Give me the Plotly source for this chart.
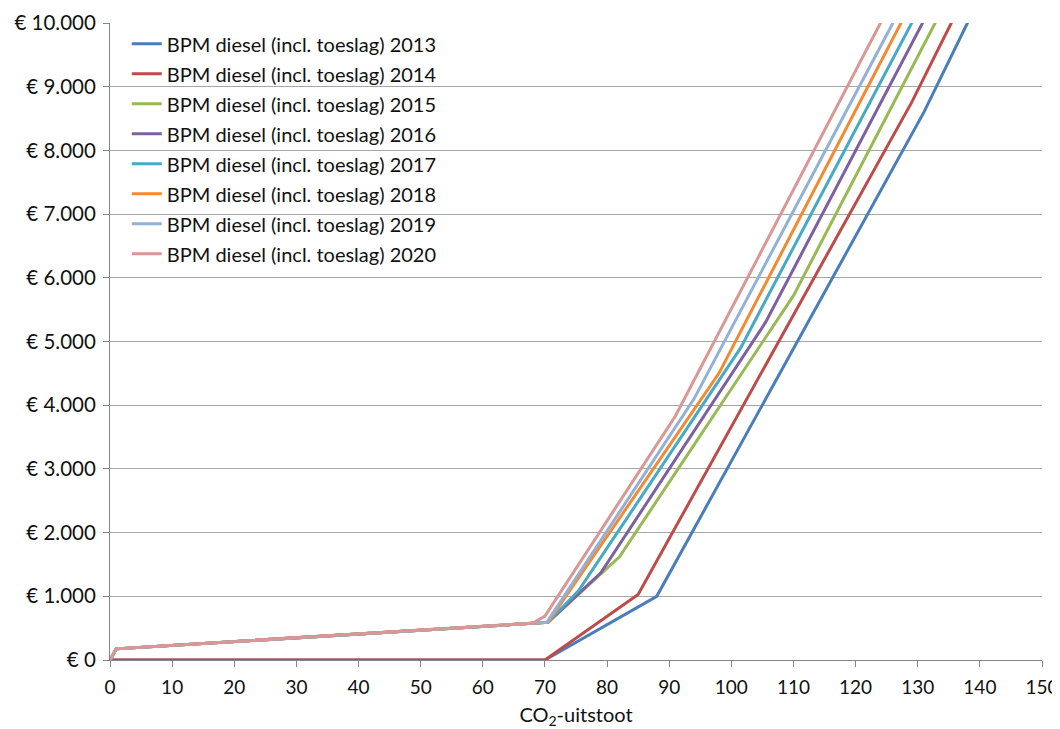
import plotly.graph_objects as go

# ---- data ----
years = ["2013", "2014", "2015", "2016", "2017", "2018", "2019", "2020"]
names = [f"BPM diesel (incl. toeslag) {y}" for y in years]

x_2013 = [0, 70, 88, 131, 138, 141]
y_2013 = [0, 0, 1000, 8600, 10000, 10600]

x_2014 = [0, 70, 85, 129, 135.4, 138]
y_2014 = [0, 0, 1030, 8750, 10000, 10500]

x_2015 = [0, 1, 70.5, 82, 110, 132.8, 136]
y_2015 = [0, 175, 592, 1620, 5720, 10000, 10600]

x_2016 = [0, 1, 70.5, 79, 105.5, 130.8, 134]
y_2016 = [0, 175, 592, 1370, 5300, 10000, 10600]

x_2017 = [0, 1, 70.5, 75.5, 101.5, 129.1, 132]
y_2017 = [0, 175, 592, 1100, 4900, 10000, 10550]

x_2018 = [0, 1, 70.5, 98, 127.3, 130]
y_2018 = [0, 175, 592, 4500, 10000, 10500]

x_2019 = [0, 1, 70.3, 94, 126, 129]
y_2019 = [0, 175, 590, 4100, 10000, 10550]

x_2020 = [0, 1, 68, 70, 91, 124, 127]
y_2020 = [0, 175, 578, 690, 3830, 10000, 10560]

xs = [x_2013, x_2014, x_2015, x_2016, x_2017, x_2018, x_2019, x_2020]
ys = [y_2013, y_2014, y_2015, y_2016, y_2017, y_2018, y_2019, y_2020]

colors = ["#4A7EBB", "#BE4B48", "#98B954", "#7D60A0",
          "#46AAC5", "#F38A33", "#93B1D7", "#D99795"]

x_ticks = list(range(0, 151, 10))
y_ticks = list(range(0, 10001, 1000))
y_labels = ["€ " + f"{v:,}".replace(",", ".") for v in y_ticks]

FONT = "Lato"
TXT = "#111111"

fig = go.Figure()
for i in range(len(years)):
    fig.add_trace(go.Scatter(
        x=xs[i], y=ys[i], mode="lines", name=names[i],
        line=dict(color=colors[i], width=3),
        legendgroup=f"g{i}",
    ))

# the page body has an 8px margin, so the figure is sized to fit the window
fig.update_layout(
    width=1052, height=721,
    margin=dict(l=102, r=18, t=15, b=69),
    paper_bgcolor="white", plot_bgcolor="white",
    font=dict(family=FONT, size=19, color=TXT),
    showlegend=True,
    legend=dict(
        x=0.018, y=0.998, xanchor="left", yanchor="top",
        bgcolor="rgba(0,0,0,0)", borderwidth=0,
        font=dict(family=FONT, size=20, color=TXT),
        tracegroupgap=1, itemwidth=30,
    ),
    xaxis=dict(
        range=[0, 150], tickmode="array", tickvals=x_ticks,
        ticktext=[str(v) for v in x_ticks],
        showgrid=False, zeroline=False, automargin=False,
        showline=True, linecolor="#868686", linewidth=1,
        ticks="outside", ticklen=6, tickcolor="#868686",
        ticklabelstandoff=4,
        tickfont=dict(family=FONT, size=19, color=TXT),
        title=dict(text="CO<sub>2</sub>-uitstoot", font=dict(family=FONT, size=20, color=TXT), standoff=15),
    ),
    yaxis=dict(
        range=[0, 10000], tickmode="array", tickvals=y_ticks, ticktext=y_labels,
        showgrid=True, gridcolor="#A6A6A6", gridwidth=1, zeroline=False, automargin=False,
        showline=True, linecolor="#868686", linewidth=1,
        ticks="outside", ticklen=6, tickcolor="#868686",
        ticklabelstandoff=3,
        tickfont=dict(family=FONT, size=20.5, color=TXT),
    ),
)

fig.write_html("out.html")
